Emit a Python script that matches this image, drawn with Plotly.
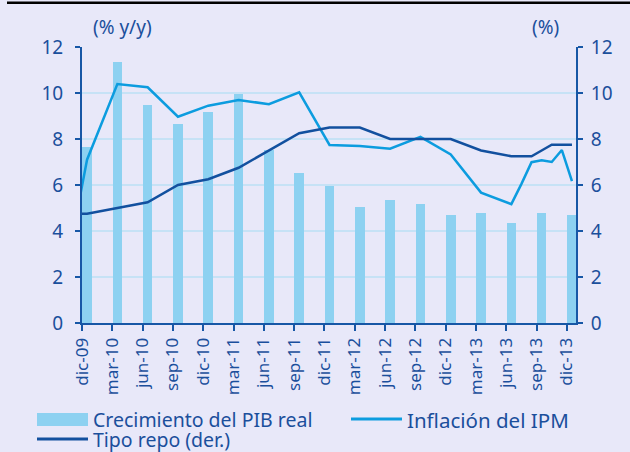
import plotly.graph_objects as go

# ---- data ----
quarters = ["dic-09", "mar-10", "jun-10", "sep-10", "dic-10", "mar-11", "jun-11", "sep-11",
            "dic-11", "mar-12", "jun-12", "sep-12", "dic-12", "mar-13", "jun-13", "sep-13", "dic-13"]
gdp_growth = [7.67, 11.36, 9.48, 8.65, 9.16, 9.96, 7.52, 6.51,
              5.97, 5.06, 5.35, 5.17, 4.70, 4.78, 4.35, 4.78, 4.70]

infl_periods = ["nov-09", "dic-09", "mar-10", "jun-10", "sep-10", "dic-10", "mar-11", "jun-11",
                "sep-11", "dic-11", "mar-12", "jun-12", "sep-12", "dic-12", "mar-13", "jun-13",
                "jul-13", "ago-13", "sep-13", "oct-13", "nov-13", "dic-13"]
wpi_inflation = [4.8, 7.1, 10.39, 10.25, 8.97, 9.45, 9.70, 9.51,
                 10.03, 7.74, 7.70, 7.58, 8.09, 7.33, 5.67, 5.17,
                 6.05, 6.99, 7.07, 7.00, 7.52, 6.17]

repo_periods = infl_periods
repo_rate = [4.75, 4.75, 5.00, 5.25, 6.00, 6.25, 6.75, 7.50,
             8.25, 8.50, 8.50, 8.00, 8.00, 8.00, 7.50, 7.25,
             7.25, 7.25, 7.50, 7.75, 7.75, 7.75]

legend_names = ["Crecimiento del PIB real", "Inflación del IPM", "Tipo repo (der.)"]
left_title = "(% y/y)"
right_title = "(%)"

# ---- helpers ----
MONTHS = ["ene", "feb", "mar", "abr", "may", "jun", "jul", "ago", "sep", "oct", "nov", "dic"]


def month_index(label):
    m, y = label.split("-")
    return (2000 + int(y) - 2009) * 12 + MONTHS.index(m) + 1 - 12


tick_pos = [month_index(q) for q in quarters]
bar_x = [month_index(q) + 0.5 for q in quarters]
infl_x = [month_index(p) + 0.5 for p in infl_periods]
repo_x = [month_index(p) + 0.5 for p in repo_periods]

TXT = "#1B4F9C"
AX = "#1757A6"
GRID = "#C6E2F6"
BAR = "#8DD1F1"
INFL = "#0C9CDF"
REPO = "#12509F"
BG = "#E8E8F9"
FONT = "Noto Sans"

fig = go.Figure()
fig.add_trace(go.Bar(x=bar_x, y=gdp_growth, width=0.95, marker_color=BAR,
                     marker_line_width=0, name=legend_names[0], showlegend=False))
fig.add_trace(go.Scatter(x=infl_x, y=wpi_inflation, mode="lines",
                         line=dict(color=INFL, width=2.5), name=legend_names[1], showlegend=False))
fig.add_trace(go.Scatter(x=repo_x, y=repo_rate, mode="lines", yaxis="y2",
                         line=dict(color=REPO, width=2.5), name=legend_names[2], showlegend=False))

L, R, T, B = 82, 54, 47, 129
W, H = 630, 452
pw, ph = W - L - R, H - T - B


def px(xp):
    return (xp - L) / pw


def py(yp):
    return (H - B - yp) / ph


common_y = dict(range=[0, 12], dtick=2, tick0=0, showline=True, linecolor=AX, linewidth=2,
                ticks="outside", ticklen=5, tickwidth=2, tickcolor=AX,
                tickfont=dict(family=FONT, size=19, color=TXT), zeroline=False)

fig.update_layout(
    width=W, height=H,
    margin=dict(l=L, r=R, t=T, b=B),
    paper_bgcolor=BG, plot_bgcolor=BG,
    bargap=0,
    xaxis=dict(range=[0, 48.9], tickmode="array", tickvals=tick_pos, ticktext=quarters,
               tickangle=-90, showline=True, linecolor=AX, linewidth=2,
               ticks="outside", ticklen=6, tickwidth=2, tickcolor=AX,
               tickfont=dict(family=FONT, size=17, color=TXT), showgrid=False, zeroline=False),
    yaxis=dict(**common_y, showgrid=True, gridcolor=GRID, gridwidth=1.5, ticklabelstandoff=8),
    yaxis2=dict(**common_y, overlaying="y", side="right", showgrid=False, ticklabelstandoff=4),
    showlegend=False,
)

shapes = [
    dict(type="line", xref="paper", yref="paper", x0=px(7), x1=px(W), y0=py(2.7), y1=py(2.7),
         line=dict(color="black", width=2.5), layer="above"),
    dict(type="rect", xref="paper", yref="paper", x0=px(37), x1=px(88), y0=py(426), y1=py(413),
         fillcolor=BAR, line=dict(width=0)),
    dict(type="line", xref="paper", yref="paper", x0=px(351), x1=px(402), y0=py(419), y1=py(419),
         line=dict(color=INFL, width=3)),
    dict(type="line", xref="paper", yref="paper", x0=px(37), x1=px(88), y0=py(439), y1=py(439),
         line=dict(color=REPO, width=3)),
]
fig.update_layout(shapes=shapes)

ann_font = dict(family=FONT, size=19.5, color=TXT)
annotations = [
    dict(text=legend_names[0], x=px(92), y=py(419.5), xref="paper", yref="paper",
         xanchor="left", yanchor="middle", showarrow=False, font=ann_font, borderpad=0),
    dict(text=legend_names[1], x=px(406), y=py(419.5), xref="paper", yref="paper",
         xanchor="left", yanchor="middle", showarrow=False,
         font=dict(family=FONT, size=20.5, color=TXT), borderpad=0),
    dict(text=legend_names[2], x=px(92), y=py(439.5), xref="paper", yref="paper",
         xanchor="left", yanchor="middle", showarrow=False, font=ann_font, borderpad=0),
    dict(text=left_title, x=px(91), y=py(27), xref="paper", yref="paper",
         xanchor="left", yanchor="middle", showarrow=False,
         font=dict(family=FONT, size=19, color=TXT)),
    dict(text=right_title, x=px(561), y=py(27), xref="paper", yref="paper",
         xanchor="right", yanchor="middle", showarrow=False,
         font=dict(family=FONT, size=19, color=TXT)),
]
fig.update_layout(annotations=annotations)

fig.write_html("out.html", config={"displayModeBar": False},
               post_script="document.body.style.margin='0';document.body.style.overflow='hidden';")
